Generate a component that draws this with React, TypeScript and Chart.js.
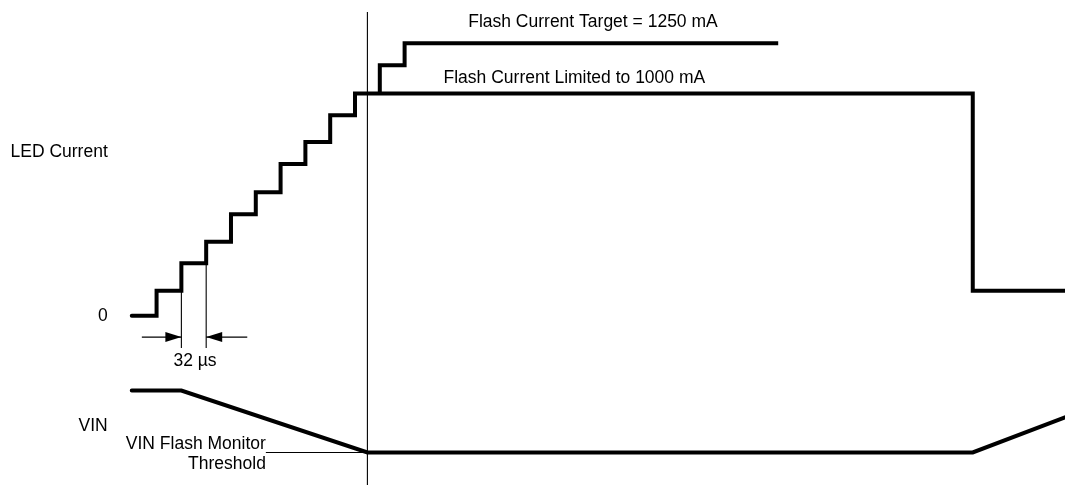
import React, { useEffect, useRef } from "react";
import { Chart, registerables } from "chart.js";

Chart.register(...registerables);

// LED current: time (µs) at which each level begins, and the level (mA)
const currentTimes = [0, 32, 64, 96, 128, 160, 192, 224, 256, 288, 1085, 1204];
const currentLevels = [0, 112, 236, 333, 457, 556, 682, 781, 902, 1000, 112, 112];

// Flash current target branch (mA)
const targetTimes = [320, 320, 352, 834];
const targetLevels = [1000, 1127, 1225, 1225];

// VIN (V)
const vinTimes = [0, 64, 304, 1085, 1204];
const vinLevels = [3.6, 3.6, 3.0, 3.0, 3.34];

// VIN flash monitor threshold leader
const thresholdTimes = [173, 304];
const thresholdLevels = [3.0, 3.0];

// vertical reference line (time µs, current range mA)
const markerTimes = [304, 304];
const markerLevels = [1366, -800];

// 32 µs dimension
const dimTimes = [64, 96];
const dimTops = [236, 333];
const dimBottom = -145;
const arrowLevel = -96;
const arrowLeftTimes = [13, 64];
const arrowRightTimes = [149, 96];

const labelTexts = [
  "Flash Current Target = 1250 mA",
  "Flash Current Limited to 1000 mA",
  "LED Current",
  "0",
  "VIN",
  "VIN Flash Monitor",
  "Threshold",
  "32 \u00b5s",
];

const zip = (xs: number[], ys: number[]) => xs.map((x, i) => ({ x, y: ys[i] }));

const labelAnchors = [
  { t: 595, v: 1321, axis: "y", align: "center" },
  { t: 571, v: 1069, axis: "y", align: "center" },
  { t: -31, v: 736, axis: "y", align: "right" },
  { t: -31, v: 0, axis: "y", align: "right" },
  { t: -31, v: 3.25, axis: "yv", align: "right" },
  { t: 173, v: 3.077, axis: "yv", align: "right" },
  { t: 173, v: 2.883, axis: "yv", align: "right" },
  { t: 81.6, v: -203, axis: "y", align: "center" },
];

const annotationPlugin = {
  id: "timingAnnotations",
  afterDatasetsDraw(chart: any) {
    const { ctx, scales } = chart;
    const xs = scales.x;
    ctx.save();
    ctx.fillStyle = "#000";
    const head = (t: number, v: number, dir: number) => {
      const px = xs.getPixelForValue(t);
      const py = scales.y.getPixelForValue(v);
      ctx.beginPath();
      ctx.moveTo(px, py);
      ctx.lineTo(px - dir * 16, py - 5);
      ctx.lineTo(px - dir * 16, py + 5);
      ctx.closePath();
      ctx.fill();
    };
    head(arrowLeftTimes[1], arrowLevel, 1);
    head(arrowRightTimes[1], arrowLevel, -1);

    ctx.font = '17.5px "Liberation Sans", Arial, sans-serif';
    ctx.textBaseline = "middle";
    labelTexts.forEach((text, i) => {
      const a = labelAnchors[i];
      ctx.textAlign = a.align;
      ctx.fillText(text, xs.getPixelForValue(a.t), scales[a.axis].getPixelForValue(a.v));
    });
    ctx.restore();
  },
};

export default function App() {
  const ref = useRef<HTMLCanvasElement>(null);

  useEffect(() => {
    const thick = {
      borderColor: "#000",
      borderWidth: 4,
      borderJoinStyle: "miter" as const,
      borderCapStyle: "round" as const,
      pointRadius: 0,
      tension: 0,
      fill: false,
    };
    const thin = {
      borderColor: "#000",
      borderWidth: 1.1,
      pointRadius: 0,
      tension: 0,
      fill: false,
      borderCapStyle: "butt" as const,
    };
    const chart = new Chart(ref.current!, {
      type: "line",
      data: {
        datasets: [
          { ...thin, label: "marker", data: zip(markerTimes, markerLevels), yAxisID: "y" },
          { ...thin, label: "dim1", data: zip([dimTimes[0], dimTimes[0]], [dimTops[0], dimBottom]), yAxisID: "y" },
          { ...thin, label: "dim2", data: zip([dimTimes[1], dimTimes[1]], [dimTops[1], dimBottom]), yAxisID: "y" },
          { ...thin, label: "arrowL", data: zip(arrowLeftTimes, [arrowLevel, arrowLevel]), yAxisID: "y" },
          { ...thin, label: "arrowR", data: zip(arrowRightTimes, [arrowLevel, arrowLevel]), yAxisID: "y" },
          { ...thin, label: "threshold", data: zip(thresholdTimes, thresholdLevels), yAxisID: "yv" },
          { ...thick, label: "LED Current", data: zip(currentTimes, currentLevels), stepped: "before", yAxisID: "y" },
          { ...thick, label: "Flash Current Target", data: zip(targetTimes, targetLevels), stepped: "before", borderCapStyle: "butt", yAxisID: "y" },
          { ...thick, label: "VIN", data: zip(vinTimes, vinLevels), yAxisID: "yv" },
        ] as any,
      },
      options: {
        animation: false,
        responsive: true,
        maintainAspectRatio: false,
        layout: { padding: 0 },
        plugins: { legend: { display: false }, tooltip: { enabled: false } },
        scales: {
          x: { type: "linear", min: -170, max: 1204, display: false },
          y: { type: "linear", min: -761, max: 1420, display: false },
          yv: { type: "linear", min: 2.685, max: 7.38, display: false },
        },
      },
      plugins: [annotationPlugin],
    });
    return () => chart.destroy();
  }, []);

  return (
    <div style={{ position: "fixed", left: 0, top: 0, width: 1065, height: 485, background: "#fff" }}>
      <canvas ref={ref} />
    </div>
  );
}
